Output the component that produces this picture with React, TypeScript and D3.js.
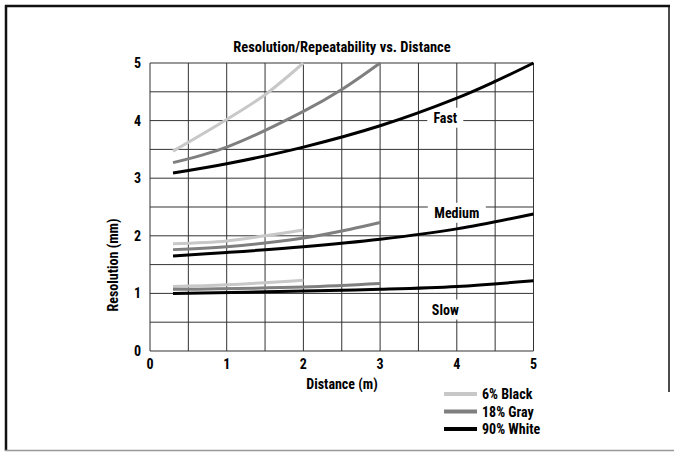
import React from "react";
import * as d3 from "d3";

const title = "Resolution/Repeatability vs. Distance";
const xTicks = [0, 1, 2, 3, 4, 5];
const yTicks = [0, 1, 2, 3, 4, 5];
const gridSteps = [0, 0.5, 1, 1.5, 2, 2.5, 3, 3.5, 4, 4.5, 5];

const seriesNames = ["6% Black", "18% Gray", "90% White"];
const seriesColors = ["#c8c8c8", "#7f7f7f", "#000000"];

// Fast
const fastBlackX = [0.3, 1, 1.5, 2];
const fastBlackY = [3.47, 4.02, 4.45, 5.0];
const fastGrayX = [0.3, 1, 2, 2.5, 3];
const fastGrayY = [3.27, 3.54, 4.16, 4.54, 5.0];
const fastWhiteX = [0.3, 1, 2, 3, 4, 4.5, 5];
const fastWhiteY = [3.09, 3.25, 3.54, 3.91, 4.39, 4.68, 5.0];
// Medium
const medBlackX = [0.3, 1, 1.5, 2];
const medBlackY = [1.86, 1.91, 2.0, 2.1];
const medGrayX = [0.3, 1, 2, 2.6, 3];
const medGrayY = [1.76, 1.81, 1.96, 2.11, 2.23];
const medWhiteX = [0.3, 1, 2, 3, 4, 5];
const medWhiteY = [1.65, 1.71, 1.81, 1.94, 2.12, 2.38];
// Slow
const slowBlackX = [0.3, 1, 2];
const slowBlackY = [1.12, 1.15, 1.23];
const slowGrayX = [0.3, 2, 3];
const slowGrayY = [1.07, 1.11, 1.17];
const slowWhiteX = [0.3, 2, 3, 4, 5];
const slowWhiteY = [1.0, 1.04, 1.07, 1.12, 1.22];

const speedLabels = ["Fast", "Medium", "Slow"];
const speedLabelX = [3.85, 4.0, 3.85];
const speedLabelY = [4.05, 2.4, 0.72];

const curves = [
  { xs: fastBlackX, ys: fastBlackY, s: 0 },
  { xs: fastGrayX, ys: fastGrayY, s: 1 },
  { xs: fastWhiteX, ys: fastWhiteY, s: 2 },
  { xs: medBlackX, ys: medBlackY, s: 0 },
  { xs: medGrayX, ys: medGrayY, s: 1 },
  { xs: medWhiteX, ys: medWhiteY, s: 2 },
  { xs: slowBlackX, ys: slowBlackY, s: 0 },
  { xs: slowGrayX, ys: slowGrayY, s: 1 },
  { xs: slowWhiteX, ys: slowWhiteY, s: 2 },
];

const FONT = "'Liberation Sans Narrow', 'Arial Narrow', 'Roboto Condensed', sans-serif";

export default function App() {
  const x = d3.scaleLinear().domain([0, 5]).range([150, 533.5]);
  const y = d3.scaleLinear().domain([0, 5]).range([351, 63]);
  const line = d3
    .line<[number, number]>()
    .x((d) => x(d[0]))
    .y((d) => y(d[1]))
    .curve(d3.curveCatmullRom.alpha(0.5));

  const labelW = [36, 58, 34];

  return (
    <svg
      width={674}
      height={452}
      style={{ position: "absolute", left: 0, top: 0, background: "#fff" }}
      fontFamily={FONT}
      fontWeight="bold"
    >
      <rect x={0} y={0} width={674} height={452} fill="#fff" />
      {/* frame */}
      <line x1={5} y1={6} x2={670} y2={6} stroke="#111" strokeWidth={2.5} />
      <line x1={6} y1={5} x2={6} y2={451} stroke="#111" strokeWidth={2.5} />
      <line x1={669} y1={5} x2={669} y2={392} stroke="#111" strokeWidth={1.5} />
      <line x1={5} y1={450.5} x2={674} y2={450.5} stroke="#999" strokeWidth={1.5} />

      <text x={342} y={52} textAnchor="middle" fontSize={14.5}>
        {title}
      </text>

      {/* grid */}
      {gridSteps.map((g) => (
        <line key={"v" + g} x1={x(g)} x2={x(g)} y1={y(0)} y2={y(5)} stroke="#333" strokeWidth={1} />
      ))}
      {gridSteps.map((g) => (
        <line key={"h" + g} x1={x(0)} x2={x(5)} y1={y(g)} y2={y(g)} stroke="#333" strokeWidth={1} />
      ))}

      {/* speed labels with white boxes */}
      {speedLabels.map((l, i) => (
        <g key={l}>
          <rect
            x={x(speedLabelX[i]) - labelW[i] / 2}
            y={y(speedLabelY[i]) - 10}
            width={labelW[i]}
            height={20}
            fill="#fff"
          />
          <text x={x(speedLabelX[i])} y={y(speedLabelY[i]) + 5} textAnchor="middle" fontSize={14}>
            {l}
          </text>
        </g>
      ))}

      {/* curves */}
      {curves.map((c, i) => (
        <path
          key={i}
          d={line(c.xs.map((v, j) => [v, c.ys[j]] as [number, number])) || ""}
          fill="none"
          stroke={seriesColors[c.s]}
          strokeWidth={3}
        />
      ))}

      {/* axes ticks */}
      {xTicks.map((t) => (
        <text key={"xt" + t} x={x(t)} y={369} textAnchor="middle" fontSize={14}>
          {t}
        </text>
      ))}
      {yTicks.map((t) => (
        <text key={"yt" + t} x={141} y={y(t) + 5} textAnchor="end" fontSize={14}>
          {t}
        </text>
      ))}
      <text x={342} y={389} textAnchor="middle" fontSize={14}>
        Distance (m)
      </text>
      <text
        transform={`translate(118,265) rotate(-90)`}
        textAnchor="middle"
        fontSize={14}
      >
        Resolution (mm)
      </text>

      {/* legend */}
      {seriesNames.map((n, i) => (
        <g key={n}>
          <line x1={444} x2={477} y1={394 + i * 17.5} y2={394 + i * 17.5} stroke={seriesColors[i]} strokeWidth={4} />
          <text x={482} y={399 + i * 17.5} fontSize={14}>
            {n}
          </text>
        </g>
      ))}
    </svg>
  );
}
